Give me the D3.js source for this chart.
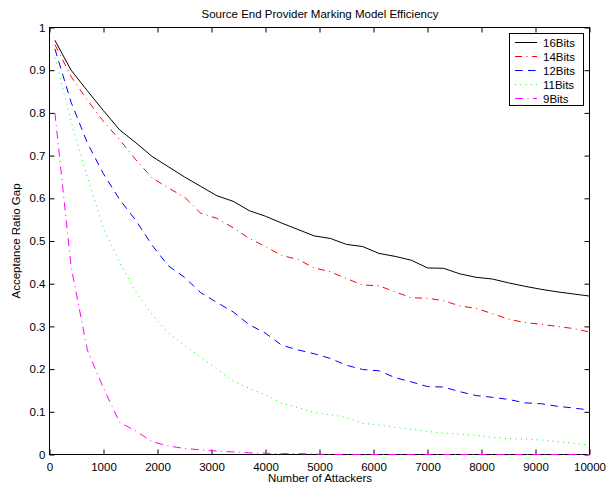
<!DOCTYPE html>
<html><head><meta charset="utf-8">
<script src="https://cdn.jsdelivr.net/npm/d3@7"></script>
<style>
body{margin:0;background:#fff;}
text{font-family:"Liberation Sans",Arial,Helvetica,sans-serif;fill:#000;}
</style></head>
<body><svg id="c" width="607" height="483"></svg>
<script>
const title = "Source End Provider Marking Model Efficiency";
const xLabel = "Number of Attackers";
const yLabel = "Acceptance Ratio Gap";
const attackers = [100,400,700,1000,1300,1600,1900,2200,2500,2800,3100,3400,3700,4000,4300,4600,4900,5200,5500,5800,6100,6400,6700,7000,7300,7600,7900,8200,8500,8800,9100,9400,9700,10000];
const bits16 = [0.970,0.900,0.852,0.805,0.760,0.730,0.698,0.674,0.650,0.628,0.606,0.593,0.571,0.558,0.542,0.527,0.512,0.506,0.492,0.487,0.471,0.464,0.455,0.437,0.436,0.423,0.415,0.411,0.402,0.394,0.387,0.381,0.376,0.371];
const bits14 = [0.960,0.885,0.830,0.780,0.737,0.690,0.648,0.624,0.603,0.565,0.553,0.531,0.506,0.487,0.466,0.457,0.437,0.428,0.412,0.397,0.395,0.381,0.367,0.366,0.360,0.348,0.342,0.330,0.317,0.309,0.305,0.300,0.295,0.287];
const bits12 = [0.950,0.825,0.730,0.657,0.597,0.548,0.490,0.442,0.415,0.379,0.356,0.334,0.304,0.284,0.256,0.245,0.236,0.225,0.209,0.199,0.196,0.180,0.170,0.159,0.158,0.147,0.138,0.134,0.129,0.121,0.119,0.113,0.109,0.104];
const bits11 = [0.930,0.780,0.650,0.530,0.450,0.380,0.328,0.285,0.255,0.228,0.200,0.172,0.155,0.140,0.120,0.110,0.098,0.093,0.087,0.073,0.069,0.064,0.059,0.054,0.050,0.048,0.045,0.040,0.037,0.036,0.034,0.030,0.027,0.022];
const bits9  = [0.800,0.440,0.245,0.155,0.075,0.055,0.030,0.020,0.014,0.011,0.008,0.006,0.004,0.003,0.002,0.002,0.001,0,0,0,0,0,0,0,0,0,0,0,0,0,0,0,0,0];
const seriesNames = ["16Bits","14Bits","12Bits","11Bits","9Bits"];
const seriesValues = [bits16,bits14,bits12,bits11,bits9];
const seriesColors = ["#000000","#ff0000","#0000ff","#00ff00","#ff00ff"];
const seriesDash = ["none","7,4.5,1,4.5","7.5,5.5","1,4.3","8,4.5,1,4.5"];
const xTicks = [0,1000,2000,3000,4000,5000,6000,7000,8000,9000,10000];
const yTicks = [0,0.1,0.2,0.3,0.4,0.5,0.6,0.7,0.8,0.9,1];

const svg = d3.select("#c");
const L=49.5,R=589.5,T=27.5,B=454.5;
const x = d3.scaleLinear().domain([0,10000]).range([L,R]);
const y = d3.scaleLinear().domain([0,1]).range([B,T]);
const fs = "11.5px";

// axes (box with inward ticks)
const tl=5;
const gB = svg.append("g").attr("transform",`translate(0,${B})`)
  .call(d3.axisBottom(x).tickValues(xTicks).tickSizeInner(-tl).tickSizeOuter(0).tickPadding(8).tickFormat(d3.format("d")));
const gT = svg.append("g").attr("transform",`translate(0,${T})`)
  .call(d3.axisTop(x).tickValues(xTicks).tickSizeInner(-tl).tickSizeOuter(0).tickFormat(""));
const gL = svg.append("g").attr("transform",`translate(${L},0)`)
  .call(d3.axisLeft(y).tickValues(yTicks).tickSizeInner(-tl).tickSizeOuter(0).tickPadding(4).tickFormat(d=>d3.format("")(+d.toFixed(1))));
const gR = svg.append("g").attr("transform",`translate(${R},0)`)
  .call(d3.axisRight(y).tickValues(yTicks).tickSizeInner(-tl).tickSizeOuter(0).tickFormat(""));
[gB,gT,gL,gR].forEach(g=>{
  g.select(".domain").remove();
  g.selectAll("line").attr("stroke","#000");
  g.selectAll("text").style("font-size",fs).attr("fill","#000")
   .style("font-family","'Liberation Sans',Arial,sans-serif");
});
svg.append("rect").attr("x",L).attr("y",T).attr("width",R-L).attr("height",B-T)
  .attr("fill","none").attr("stroke","#000").attr("stroke-width",1);

// series (drawn over the box, as in the original)
const line = d3.line().x((d,i)=>x(attackers[i])).y(d=>y(d));
seriesValues.forEach((vals,k)=>{
  svg.append("path").datum(vals).attr("d",line)
    .attr("fill","none").attr("stroke",seriesColors[k]).attr("stroke-width",1)
    .attr("stroke-dasharray",seriesDash[k]==="none"?null:seriesDash[k]);
});

// titles
svg.append("text").attr("x",320).attr("y",18).attr("text-anchor","middle").style("font-size",fs).text(title);
svg.append("text").attr("x",320).attr("y",482).attr("text-anchor","middle").style("font-size",fs).text(xLabel);
svg.append("text").attr("transform",`translate(20,${(T+B)/2}) rotate(-90)`).attr("text-anchor","middle").style("font-size",fs).text(yLabel);

// legend
const lg = svg.append("g");
lg.append("rect").attr("x",509.5).attr("y",33.5).attr("width",74).attr("height",72)
  .attr("fill","#fff").attr("stroke","#000").attr("stroke-width",1);
seriesNames.forEach((n,k)=>{
  const yy = 42.5 + k*14;
  lg.append("line").attr("x1",515).attr("x2",537).attr("y1",yy).attr("y2",yy)
    .attr("stroke",seriesColors[k]).attr("stroke-width",1)
    .attr("stroke-dasharray",seriesDash[k]==="none"?null:seriesDash[k]);
  lg.append("text").attr("x",543).attr("y",yy+4).style("font-size",fs).text(n);
});
</script></body></html>
